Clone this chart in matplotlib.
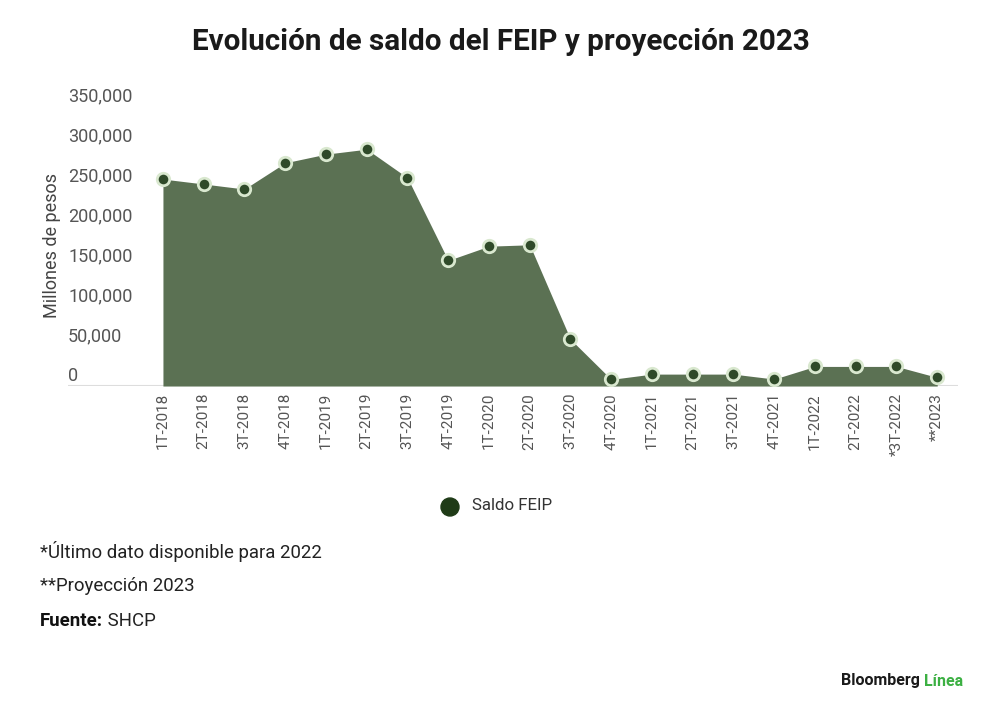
import matplotlib
matplotlib.use("Agg")
import matplotlib.pyplot as plt
import matplotlib.transforms as mtransforms

plt.rcParams['font.family'] = ['Roboto', 'DejaVu Sans']

# data
periods = ["1T-2018", "2T-2018", "3T-2018", "4T-2018",
           "1T-2019", "2T-2019", "3T-2019", "4T-2019",
           "1T-2020", "2T-2020", "3T-2020", "4T-2020",
           "1T-2021", "2T-2021", "3T-2021", "4T-2021",
           "1T-2022", "2T-2022", "*3T-2022", "**2023"]
saldo = [258700, 252500, 246200, 279000,
         289800, 296000, 260300, 157000,
         174800, 176500, 58500, 8300,
         14900, 14900, 14900, 8700,
         24500, 24500, 24500, 10800]
y_ticks = [0, 50000, 100000, 150000, 200000, 250000, 300000, 350000]

AREA = "#5b7153"
DOT = "#2f4a29"
DOT_EDGE = "#d9e8cf"
GREY = "#555555"

fig = plt.figure(figsize=(10, 7.19), dpi=100)
ax = fig.add_axes([0.068, 0.4631, 0.89, 0.3895])

x = list(range(len(saldo)))
ax.fill_between(x, saldo, 0, color=AREA, linewidth=0, zorder=2)
ax.scatter(x, saldo, s=80, color=DOT, edgecolors=DOT_EDGE, linewidths=2, zorder=3)

ax.set_xlim(-2.33, 19.51)
ax.set_ylim(0, 350000)

for s in ax.spines.values():
    s.set_visible(False)
ax.axhline(0, color="#dddddd", linewidth=1.5, zorder=1)

ax.set_yticks([])
trans = mtransforms.blended_transform_factory(ax.transAxes, ax.transData)
for v in y_ticks:
    ax.annotate(f"{v:,}", xy=(0, v), xycoords=trans, xytext=(0, 10),
                textcoords="offset pixels", ha="left", va="center",
                fontsize=13, color=GREY)

ax.set_xticks(x)
ax.set_xticklabels(periods, rotation=90, fontsize=11, color=GREY)
ax.tick_params(axis="x", length=0, pad=5)

fig.text(0.052, 0.659, "Millones de pesos", rotation=90, ha="center", va="center",
         fontsize=13, color="#444444")

fig.text(0.501, 0.942, "Evolución de saldo del FEIP y proyección 2023", ha="center",
         va="center", fontsize=21.3, fontweight="bold", color="#1a1a1a")

# legend
fig.patches.append(matplotlib.patches.Ellipse((0.450, 1 - 507 / 719), 0.018, 0.025,
                                              transform=fig.transFigure, color="#1f3b17"))
fig.text(0.472, 1 - 506 / 719, "Saldo FEIP", ha="left", va="center", fontsize=12.2,
         color="#333333")

# notes
fig.text(0.040, 1 - 551 / 719, "*Último dato disponible para 2022", ha="left", va="center",
         fontsize=13.4, color="#222222")
fig.text(0.040, 1 - 586 / 719, "**Proyección 2023", ha="left", va="center",
         fontsize=13.4, color="#222222")
src = fig.text(0.040, 1 - 621 / 719, "Fuente:", ha="left", va="center",
               fontsize=13.4, fontweight="bold", color="#111111")
ax.annotate(" SHCP", xy=(1, 0.5), xycoords=src, ha="left", va="center",
            fontsize=13.4, color="#222222", annotation_clip=False)

bb = fig.text(0.841, 1 - 681 / 719, "Bloomberg", ha="left", va="center",
              fontsize=11.5, fontweight="bold", color="#1a1a1a")
ax.annotate(" Línea", xy=(1, 0.5), xycoords=bb, ha="left", va="center",
            fontsize=11.5, fontweight="bold", color="#3cb043", annotation_clip=False)

fig.savefig("out.png", dpi=100, facecolor="white")
